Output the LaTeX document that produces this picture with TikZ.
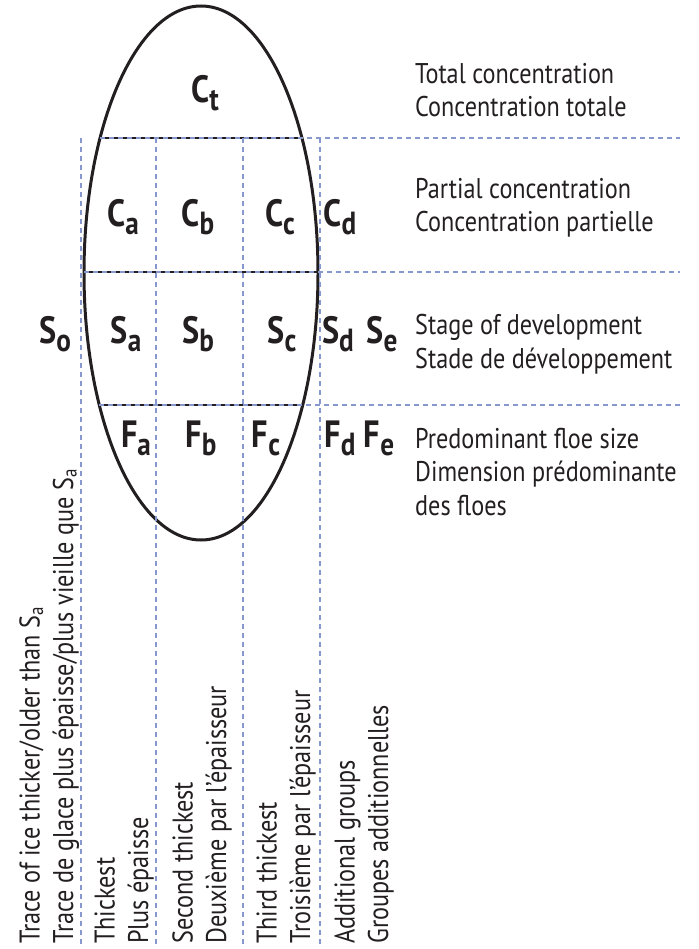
\documentclass[tikz,border=0pt]{standalone}
\usepackage{fontspec}
\setmainfont{PT Sans}[FakeStretch=0.85]
\usetikzlibrary{calc}
\definecolor{gridblue}{RGB}{134,152,206}
\definecolor{ink}{RGB}{35,31,32}
\newcommand{\eggsym}[2]{{\fontsize{38}{38}\selectfont\bfseries #1\raisebox{-8pt}{\fontsize{32}{32}\selectfont #2}}}
\tikzset{
  gridline/.style={gridblue,line width=1.2pt,dash pattern=on 5pt off 4pt},
  eggline/.style={ink,line width=3pt},
  chord/.style={ink,line width=2.4pt},
  symb/.style={ink,inner sep=0pt,anchor=base},
  legend/.style={ink,inner sep=0pt,anchor=base west,align=left,font=\fontsize{28.5}{33.5}\selectfont},
  coltext/.style={legend,rotate=90}
}
\begin{document}
\begin{tikzpicture}[x=1pt,y=-1pt]
      \useasboundingbox (0,0) rectangle (698,949);
      \foreach \rx/\ry in {117/267}{
        \coordinate(O)at(201,273);
        \draw[eggline](O)ellipse({\rx} and {\ry});
        \foreach \y/\xl/\xr in {138/100/302,272/84/318,405/99/303}{
          \draw[chord](\xl,\y)--(\xr,\y);
          \draw[gridline](\xl,\y)--(680,\y);
        }
        \foreach \x in {81,156,243,320}
          \draw[gridline](\x,138)--(\x,945);
      }
      \foreach \l/\s/\x/\y in {C/t/205/103,C/a/123/227,C/b/198/227,C/c/280/227,C/d/340/227,
                               S/o/55/343,S/a/126/343,S/b/198/343,S/c/282/343,S/d/338/343,S/e/382/343,
                               F/a/136/447,F/b/201/447,F/c/266/447,F/d/340/447,F/e/379/447}
        \node[symb](\l\s)at(\x,\y){\eggsym{\l}{\s}};
      \node[legend](tc)at(415,117){Total concentration\\Concentration totale};
      \node[legend](pc)at(415,232){Partial concentration\\Concentration partielle};
      \node[legend](sd)at(415,368){Stage of development\\Stade de développement};
      \node[legend](fs)at(415,515){Predominant floe size\\Dimension prédominante\\des floes};
      \node[coltext](tr)at(73,944){Trace of ice thicker/older than S\textsubscript{a}\\Trace de glace plus épaisse/plus vieille que S\textsubscript{a}};
      \node[coltext](th)at(148,944){Thickest\\Plus épaisse};
      \node[coltext](st)at(226,944){Second thickest\\Deuxième par l'épaisseur};
      \node[coltext](tt)at(310,944){Third thickest\\Troisième par l'épaisseur};
      \node[coltext](ag)at(388,944){Additional groups\\Groupes additionnelles};
    \end{tikzpicture}
\end{document}
